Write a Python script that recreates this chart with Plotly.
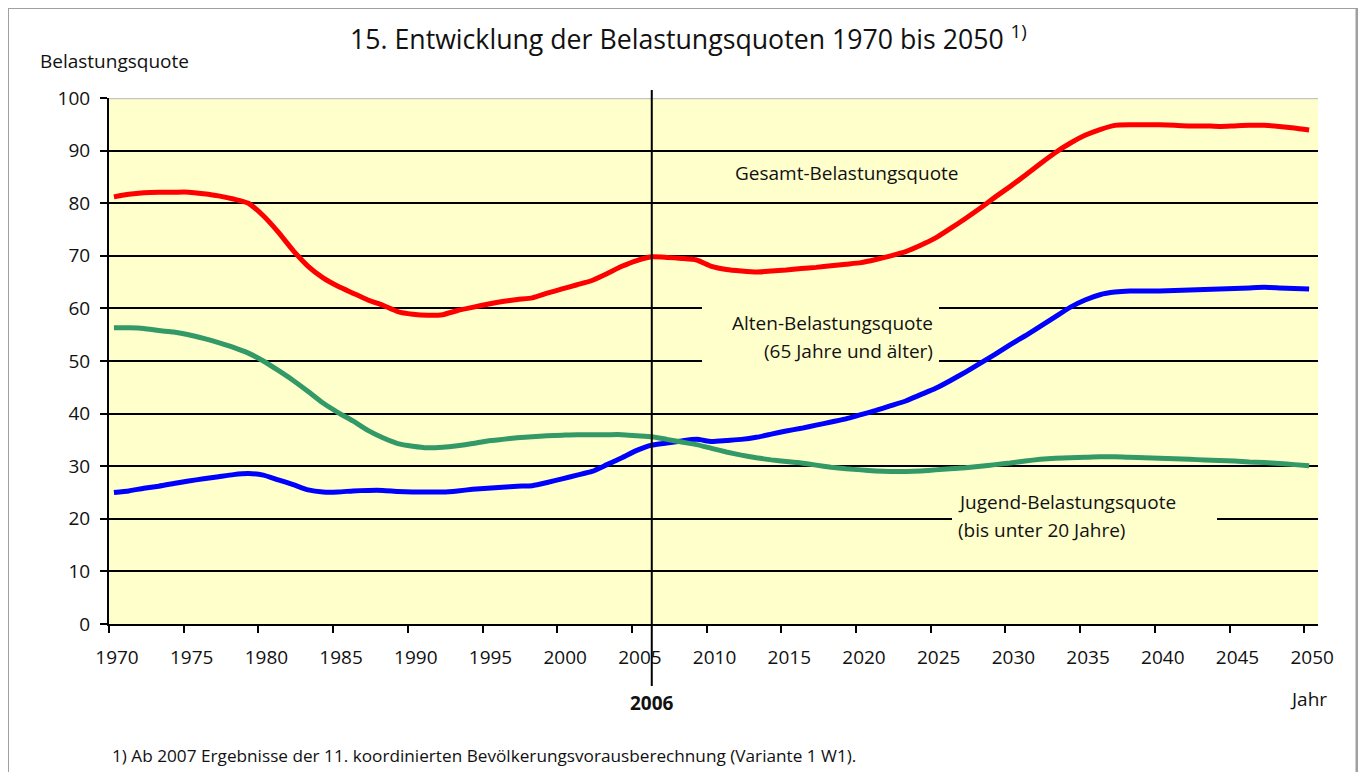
import plotly.graph_objects as go

# ---------------- data ----------------
years = list(range(1970, 2051))

gesamt = [81.2, 81.7, 82.0, 82.1, 82.1, 82.1, 81.8, 81.4, 80.8, 80.0,
          77.6, 74.5, 71.0, 68.0, 65.8, 64.2, 62.9, 61.6, 60.6, 59.4,
          58.9, 58.7, 58.8, 59.6, 60.2, 60.8, 61.3, 61.7, 62.0, 62.9,
          63.7, 64.5, 65.3, 66.6, 68.0, 69.1, 69.8, 69.7, 69.5, 69.2,
          68.0, 67.4, 67.1, 66.9, 67.1, 67.3, 67.6, 67.8, 68.1, 68.4,
          68.7, 69.3, 70.0, 70.8, 72.0, 73.4, 75.2, 77.1, 79.1, 81.2,
          83.2, 85.3, 87.5, 89.6, 91.4, 92.9, 94.0, 94.8, 94.9, 94.9,
          94.9, 94.8, 94.7, 94.7, 94.6, 94.7, 94.8, 94.8, 94.6, 94.3,
          93.9]

alten = [25.0, 25.3, 25.8, 26.2, 26.7, 27.2, 27.6, 28.0, 28.4, 28.6,
         28.3, 27.4, 26.5, 25.5, 25.1, 25.1, 25.3, 25.4, 25.4, 25.2,
         25.1, 25.1, 25.1, 25.3, 25.6, 25.8, 26.0, 26.2, 26.3, 26.9,
         27.6, 28.3, 29.0, 30.3, 31.6, 33.0, 34.0, 34.4, 34.8, 35.1,
         34.7, 34.9, 35.1, 35.5, 36.1, 36.7, 37.2, 37.8, 38.4, 39.0,
         39.8, 40.6, 41.5, 42.4, 43.6, 44.8, 46.3, 47.9, 49.6, 51.3,
         53.1, 54.8, 56.6, 58.4, 60.2, 61.6, 62.6, 63.1, 63.3, 63.3,
         63.3, 63.4, 63.5, 63.6, 63.7, 63.8, 63.9, 64.0, 63.9, 63.8,
         63.7]

jugend = [56.3, 56.3, 56.2, 55.8, 55.5, 55.0, 54.3, 53.5, 52.6, 51.5,
          50.0, 48.2, 46.3, 44.2, 42.0, 40.2, 38.6, 36.8, 35.4, 34.3,
          33.8, 33.5, 33.6, 33.9, 34.3, 34.8, 35.1, 35.4, 35.6, 35.8,
          35.9, 36.0, 36.0, 36.0, 36.0, 35.8, 35.6, 35.1, 34.6, 34.1,
          33.4, 32.7, 32.1, 31.6, 31.2, 30.9, 30.6, 30.2, 29.8, 29.5,
          29.3, 29.1, 29.0, 29.0, 29.1, 29.3, 29.5, 29.7, 30.0, 30.3,
          30.6, 31.0, 31.3, 31.5, 31.6, 31.7, 31.8, 31.8, 31.7, 31.6,
          31.5, 31.4, 31.3, 31.2, 31.1, 31.0, 30.8, 30.7, 30.5, 30.3,
          30.1]

x_tick_vals = list(range(1970, 2051, 5))
y_tick_vals = list(range(0, 101, 10))
base_year = 2006

title_text = "15. Entwicklung der Belastungsquoten 1970 bis 2050 <sup>1)</sup>"
y_title = "Belastungsquote"
x_title = "Jahr"
footnote = "1) Ab 2007 Ergebnisse der 11. koordinierten Bevölkerungsvorausberechnung (Variante 1 W1)."

# ---------------- layout geometry ----------------
FIG_W, FIG_H = 1350, 764
ML, MR, MT, MB = 101, 40, 90, 148
PW = FIG_W - ML - MR
PH = FIG_H - MT - MB
OFF = 8          # default browser body margin
X_SHIFT = 0.33   # points sit slightly right of the year ticks
PX_PER_YEAR = 14.94
X_MAX = 1970 + PW / PX_PER_YEAR

def px(xp):
    return (xp - OFF - ML) / PW

def py(yp):
    return 1 - (yp - OFF - MT) / PH

def yr(xp):
    return 1970 + (xp - OFF - ML) / PX_PER_YEAR

FONT = "Open Sans"
BG = "#FFFFCC"

xs = [y + X_SHIFT for y in years]

fig = go.Figure()
for name, vals, col in [("Gesamt-Belastungsquote", gesamt, "#FF0000"),
                        ("Alten-Belastungsquote", alten, "#0000FF"),
                        ("Jugend-Belastungsquote", jugend, "#339966")]:
    fig.add_trace(go.Scatter(x=xs, y=vals, mode="lines", name=name,
                             line=dict(color=col, width=5, shape="spline", smoothing=0.5),
                             hoverinfo="skip"))

fig.update_layout(
    width=FIG_W, height=FIG_H,
    margin=dict(l=ML, r=MR, t=MT, b=MB),
    paper_bgcolor="white", plot_bgcolor=BG,
    showlegend=False,
    font=dict(family=FONT, size=19, color="#111111"),
)
fig.update_xaxes(range=[1970, X_MAX], tickvals=x_tick_vals,
                 ticktext=[str(v) for v in x_tick_vals],
                 showgrid=False, zeroline=False,
                 showline=True, linecolor="black", linewidth=2,
                 ticks="outside", ticklen=7, tickwidth=2, tickcolor="black",
                 ticklabelstandoff=8, ticklabelshift=8,
                 tickfont=dict(family=FONT, size=19, color="#111111"))
fig.update_yaxes(range=[0, 100], tickvals=y_tick_vals,
                 showgrid=True, gridcolor="black", gridwidth=2,
                 zeroline=False,
                 showline=True, linecolor="black", linewidth=2,
                 ticks="outside", ticklen=7, tickwidth=2, tickcolor="black",
                 ticklabelstandoff=6,
                 tickfont=dict(family=FONT, size=19, color="#111111"))

shapes = [
    # label masks over grid lines
    dict(type="rect", xref="x", yref="y", x0=yr(702), x1=yr(939), y0=47, y1=63,
         fillcolor=BG, line=dict(width=0), layer="between"),
    dict(type="rect", xref="x", yref="y", x0=yr(952), x1=yr(1217), y0=17, y1=23,
         fillcolor=BG, line=dict(width=0), layer="between"),
    # top border of plot area
    dict(type="line", xref="paper", yref="y", x0=0, x1=1, y0=100, y1=100,
         line=dict(color="#C4C4C4", width=2.5), layer="above"),
    # 2006 marker line
    dict(type="line", xref="x", yref="paper", x0=base_year + X_SHIFT, x1=base_year + X_SHIFT,
         y0=py(686), y1=py(90), line=dict(color="black", width=2), layer="above"),
    # outer frame
    dict(type="rect", xref="paper", yref="paper", x0=px(7.5), x1=px(1357), y0=py(7.5), y1=py(800),
         line=dict(color="#A0A0A0", width=3), fillcolor="rgba(0,0,0,0)", layer="above"),
]
fig.update_layout(shapes=shapes)

def ann(text, x, y, xanchor="left", size=19, bold=False):
    if bold:
        text = "<b>" + text + "</b>"
    return dict(text=text, x=px(x), y=py(y), xref="paper", yref="paper",
                xanchor=xanchor, yanchor="middle", showarrow=False,
                font=dict(family=FONT, size=size, color="#111111"))

annotations = [
    ann(title_text, 348, 37, size=26.7),
    ann(y_title, 38, 61),
    ann("Gesamt-Belastungsquote", 733, 173),
    ann("Alten-Belastungsquote", 935, 323, xanchor="right"),
    ann("(65 Jahre und älter)", 935, 351, xanchor="right"),
    ann("Jugend-Belastungsquote", 956, 502),
    ann("(bis unter 20 Jahre)", 956, 530),
    ann(str(base_year), 652, 703, xanchor="center", bold=True),
    ann(x_title, 1308, 699, xanchor="center"),
    ann(footnote, 110, 755, size=17.2),
]
fig.update_layout(annotations=annotations)

fig.write_html("out.html")
